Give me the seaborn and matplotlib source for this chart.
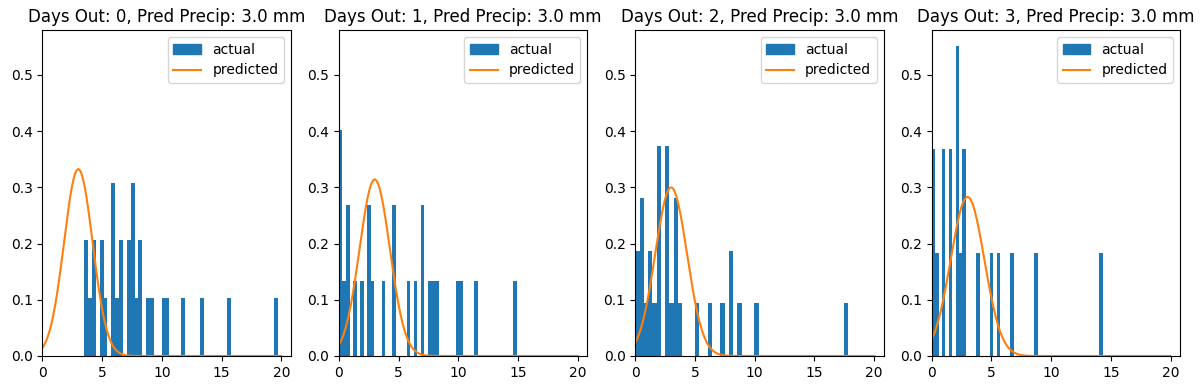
import numpy as np
import matplotlib
matplotlib.use("Agg")
import matplotlib.pyplot as plt
import seaborn as sns
from matplotlib.patches import Patch
from matplotlib.lines import Line2D

# observed precip (mm) for each forecast lead time
days_out = [0, 1, 2, 3]
pred_precip = [3.0, 3.0, 3.0, 3.0]
pred_sigma = [1.2, 1.27, 1.33, 1.41]

actual_0 = [3.5, 3.7, 4.0, 4.3, 4.3, 4.9, 5.0, 5.3, 5.9, 5.9, 6.0, 6.2, 6.5, 6.6,
            7.2, 7.3, 7.5, 7.5, 7.6, 7.9, 8.1, 8.3, 8.8, 9.2, 10.1, 10.5, 11.8,
            13.4, 15.6, 19.7]
actual_1 = [0.0, 0.0, 0.0, 0.45, 0.75, 0.75, 1.35, 1.95, 2.5, 2.55, 2.85, 3.75,
            4.6, 4.65, 5.8, 6.4, 7.0, 7.0, 7.6, 7.9, 8.2, 10.0, 10.3, 11.5, 14.9]
actual_2 = [0.0, 0.15, 0.5, 0.55, 0.6, 0.9, 1.2, 1.3, 1.6, 1.9, 2.0, 2.0, 2.1,
            2.6, 2.6, 2.7, 2.8, 3.0, 3.3, 3.4, 3.5, 3.7, 5.2, 6.2, 7.3, 7.9, 8.0,
            8.7, 10.1, 17.8]
actual_3 = [0.0, 0.0, 0.4, 0.95, 1.0, 1.5, 1.55, 2.05, 2.1, 2.1, 2.4, 2.65, 2.7,
            3.8, 5.0, 5.6, 6.7, 8.7, 14.3]
actuals = [actual_0, actual_1, actual_2, actual_3]

blue = "#1f77b4"
orange = "#ff7f0e"

fig, axes = plt.subplots(1, 4, figsize=(12.03, 3.9), dpi=100)
fig.subplots_adjust(left=0.0353, right=0.981, top=0.923, bottom=0.0872, wspace=0.193)

xs = np.linspace(0, 20, 400)
for ax, d, mu, sd, vals in zip(axes, days_out, pred_precip, pred_sigma, actuals):
    sns.histplot(x=vals, bins=50, stat="density", ax=ax, color=blue,
                 alpha=1, edgecolor="none", linewidth=0)
    pdf = np.exp(-0.5 * ((xs - mu) / sd) ** 2) / (sd * np.sqrt(2 * np.pi))
    sns.lineplot(x=xs, y=pdf, ax=ax, color=orange, linewidth=1.5)
    ax.set_xlim(0, 20.8)
    ax.set_ylim(0, 0.58)
    ax.set_xlabel("")
    ax.set_ylabel("")
    ax.set_title(f"Days Out: {d}, Pred Precip: {mu} mm", fontsize=12)
    handles = [Patch(color=blue), Line2D([], [], color=orange, linewidth=1.5)]
    ax.legend(handles, ["actual", "predicted"], loc="upper right")

plt.savefig("out.png", dpi=100)
